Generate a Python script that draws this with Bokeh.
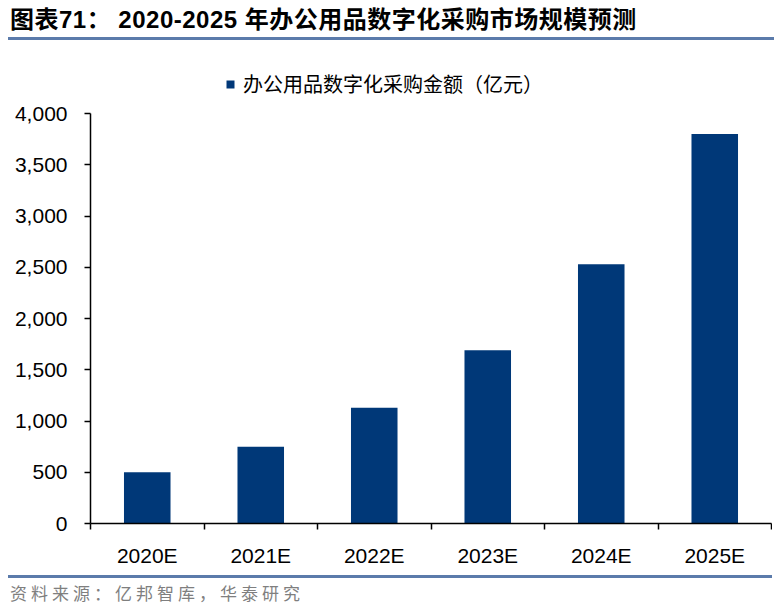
from bokeh.plotting import figure
from bokeh.layouts import column
from bokeh.models import (Range1d, LinearAxis, FixedTicker, NumeralTickFormatter, Legend,
                          ColumnDataSource, Div)
from bokeh.embed import file_html
from bokeh.resources import INLINE

categories = ["2020E", "2021E", "2022E", "2023E", "2024E", "2025E"]
values = [500, 750, 1130, 1690, 2530, 3800]
y_ticks = [0, 500, 1000, 1500, 2000, 2500, 3000, 3500, 4000]
y_max = 4000
series_name = "办公用品数字化采购金额（亿元）"
title_text = "图表71：&nbsp;2020-2025 年办公用品数字化采购市场规模预测"
source_text = "资料来源：亿邦智库，华泰研究"

# category slot centres on a numeric axis (slot i spans i..i+1)
centres = [i + 0.5 for i in range(len(categories))]
edges = list(range(len(categories) + 1))

W = 772
RULE = "#5B7BAB"

title_div = Div(
    text=(f'<div style="margin-left:8px;width:{W-8}px;height:34px;padding:3px 0 0 2px;'
          f'box-sizing:content-box;border-bottom:3px solid {RULE};'
          f'font-family:\'Liberation Sans\',\'Noto Sans CJK SC\';font-weight:bold;font-size:24px;'
          f'line-height:34px;color:black;letter-spacing:0.5px;white-space:nowrap;">{title_text}</div>'),
    width=W, height=40, margin=(0, 0, 0, 0))

# figure geometry: frame extends above the 4000 line to hold the legend
H = 530
ML, MR, MT, MB = 90, 1, 21, 47
frame_h = H - MT - MB          # 462 px
axis_h = 410                   # px from 0 to y_max
y_end = y_max * frame_h / axis_h

p = figure(width=W, height=H, x_range=Range1d(0, len(categories)),
           y_range=Range1d(0, y_end), output_backend="svg", toolbar_location=None,
           x_axis_location=None, y_axis_location=None,
           min_border_left=ML, min_border_right=MR, min_border_top=MT, min_border_bottom=MB)
p.outline_line_color = None
p.xgrid.visible = False
p.ygrid.visible = False
p.background_fill_color = "white"
p.border_fill_color = "white"

src = ColumnDataSource(dict(x=centres, top=values, cat=categories))
bars = p.vbar(x="x", top="top", width=0.41, source=src, fill_color="#003878", line_color=None)

# y axis
yaxis = LinearAxis(ticker=FixedTicker(ticks=y_ticks), formatter=NumeralTickFormatter(format="0,0"),
                   bounds=(0, y_max))
yaxis.major_tick_out = 6
yaxis.major_tick_in = 0
yaxis.minor_tick_line_color = None
yaxis.axis_line_color = "black"
yaxis.axis_line_width = 1.5
yaxis.major_tick_line_width = 1.5
yaxis.major_label_standoff = 17
yaxis.major_label_text_font = "Liberation Sans"
yaxis.major_label_text_font_size = "21px"
yaxis.major_label_text_color = "black"
p.add_layout(yaxis, "left")

# x axis: labels at slot centres, tick marks (minor) at slot boundaries
xaxis = LinearAxis(ticker=FixedTicker(ticks=centres, minor_ticks=edges),
                   major_label_overrides={c: lab for c, lab in zip(centres, categories)})
xaxis.axis_line_color = "black"
xaxis.axis_line_width = 1.5
xaxis.major_tick_line_color = None
xaxis.major_tick_out = 0
xaxis.major_tick_in = 0
xaxis.minor_tick_line_color = "black"
xaxis.minor_tick_line_width = 1.5
xaxis.minor_tick_out = 6
xaxis.minor_tick_in = 0
xaxis.major_label_standoff = 14
xaxis.major_label_text_font = "Liberation Sans"
xaxis.major_label_text_font_size = "21px"
xaxis.major_label_text_color = "black"
p.add_layout(xaxis, "below")

# legend inside the frame, above the 4000 line
legend = Legend(items=[(series_name, [bars])], location=(135, 425), orientation="horizontal",
                glyph_width=10, glyph_height=10, label_standoff=8, padding=0, margin=0,
                background_fill_alpha=0, border_line_color=None,
                label_text_font="Noto Sans CJK SC", label_text_font_size="20px", label_text_color="black")
p.add_layout(legend, "center")

footer_div = Div(
    text=(f'<div style="margin:5px 0 0 8px;width:{W-8}px;border-top:3px solid {RULE};'
          f'padding:5px 0 0 2px;font-family:\'Noto Sans CJK SC\';font-size:17px;line-height:20px;'
          f'letter-spacing:4px;color:#7F7F7F;white-space:nowrap;">{source_text}</div>'),
    width=W, height=40, margin=(0, 0, 0, 0))

layout = column(title_div, p, footer_div, spacing=0)
open("out.html", "w").write(file_html(layout, INLINE))
